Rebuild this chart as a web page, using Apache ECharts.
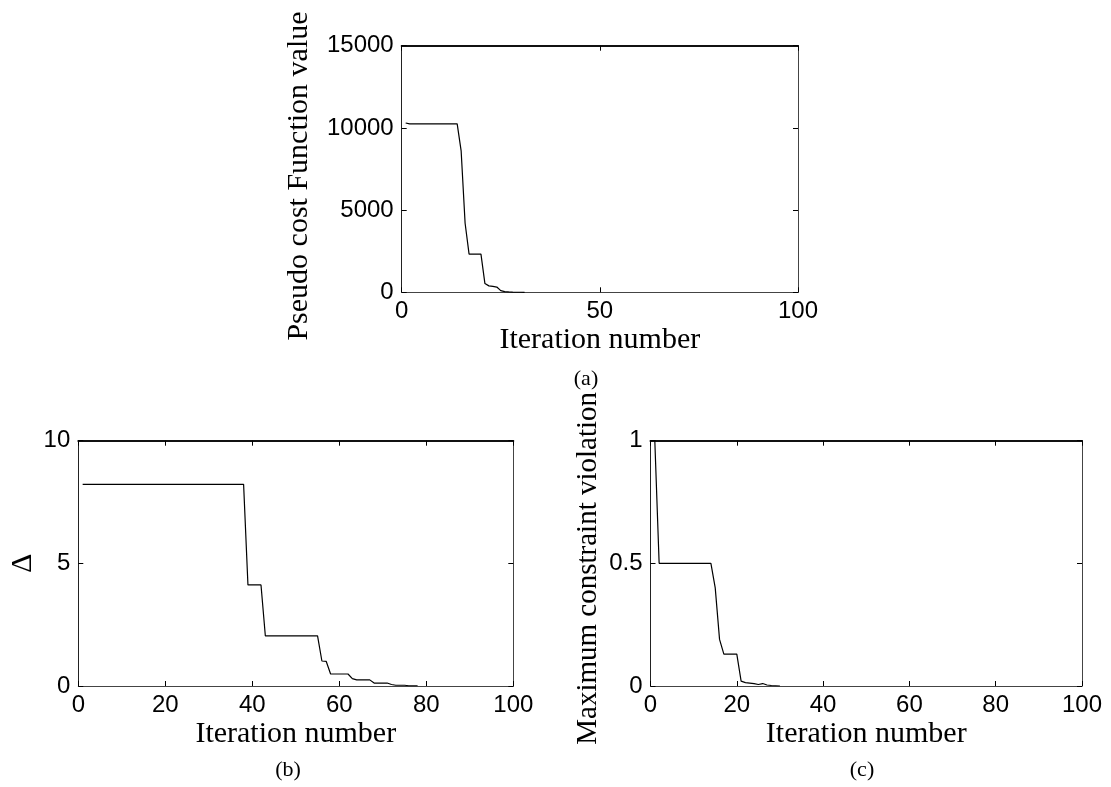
<!DOCTYPE html>
<html>
<head>
<meta charset="utf-8">
<script src="https://cdn.jsdelivr.net/npm/echarts@6/dist/echarts.min.js"></script>
<style>
  html, body { margin: 0; padding: 0; background: #fff; }
  #chart { width: 1111px; height: 787px; }
</style>
</head>
<body>
<div id="chart"></div>
<script>
// (a) pseudo cost function value, iterations 1..31
const costValues = [
  10300, 10250, 10250, 10250, 10250, 10250, 10250, 10250, 10250, 10250,
  10250, 10250, 10250, 10250, 8600, 4200, 2320, 2320, 2320, 2320,
  530, 390, 360, 320, 100, 40, 20, 8, 4, 2, 0
];
// (b) delta, iterations 1..78
const deltaValues = [
  8.22, 8.22, 8.22, 8.22, 8.22, 8.22, 8.22, 8.22, 8.22, 8.22,
  8.22, 8.22, 8.22, 8.22, 8.22, 8.22, 8.22, 8.22, 8.22, 8.22,
  8.22, 8.22, 8.22, 8.22, 8.22, 8.22, 8.22, 8.22, 8.22, 8.22,
  8.22, 8.22, 8.22, 8.22, 8.22, 8.22, 8.22, 8.22, 4.12, 4.12,
  4.12, 4.12, 2.04, 2.04, 2.04, 2.04, 2.04, 2.04, 2.04, 2.04,
  2.04, 2.04, 2.04, 2.04, 2.04, 1.02, 1.0, 0.49, 0.49, 0.49,
  0.49, 0.49, 0.3, 0.25, 0.25, 0.25, 0.25, 0.12, 0.12, 0.12,
  0.12, 0.06, 0.03, 0.03, 0.03, 0.01, 0.01, 0.01
];
// (c) maximum constraint violation, iterations 1..30
const violationValues = [
  1.0, 0.5, 0.5, 0.5, 0.5, 0.5, 0.5, 0.5, 0.5, 0.5,
  0.5, 0.5, 0.5, 0.5, 0.40, 0.19, 0.13, 0.13, 0.13, 0.13,
  0.02, 0.014, 0.012, 0.01, 0.006, 0.01, 0.004, 0.002, 0.001, 0
];

const xTicksA = [0, 50, 100];
const yTicksA = [0, 5000, 10000, 15000];
const xTicksBC = [0, 20, 40, 60, 80, 100];
const yTicksB = [0, 5, 10];
const yTicksC = [0, 0.5, 1];

const labelFont = 'Liberation Sans';
const nameFont = 'Liberation Serif';

function toPoints(vals) {
  return vals.map((v, i) => [i + 1, v]);
}

let grids = [];
let xAxes = [];
let yAxes = [];
let series = [];

function addPanel(box, xTicks, yTicks, xName, yName, yGap, yNameSize, yNamePad, vals) {
  const g = grids.length;
  grids.push({
    left: box[0], top: box[1], width: box[2], height: box[3],
    show: false, containLabel: false, outerBoundsMode: 'none'
  });
  const xStep = xTicks[1] - xTicks[0];
  const yStep = yTicks[1] - yTicks[0];
  const xBase = {
    gridIndex: g, type: 'value', min: xTicks[0], max: xTicks[xTicks.length - 1], interval: xStep,
    splitLine: { show: false },
    axisTick: { inside: true, length: 5, lineStyle: { color: '#000', width: 1 } }
  };
  const yBase = {
    gridIndex: g, type: 'value', min: yTicks[0], max: yTicks[yTicks.length - 1], interval: yStep,
    splitLine: { show: false },
    axisTick: { inside: true, length: 5, lineStyle: { color: '#000', width: 1 } }
  };
  xAxes.push(Object.assign({}, xBase, {
    position: 'bottom',
    axisLine: { onZero: false, lineStyle: { color: '#444', width: 1 } },
    axisLabel: { color: '#000', fontFamily: labelFont, fontSize: 24, margin: 7, formatter: (v) => String(v) },
    name: xName, nameLocation: 'middle', nameGap: 33,
    nameTextStyle: { color: '#000', fontFamily: nameFont, fontSize: 30 }
  }));
  xAxes.push(Object.assign({}, xBase, {
    position: 'top',
    axisLine: { onZero: false, lineStyle: { color: '#111', width: 2 } },
    axisLabel: { show: false }
  }));
  yAxes.push(Object.assign({}, yBase, {
    position: 'left',
    axisLine: { onZero: false, lineStyle: { color: '#222', width: 1 } },
    axisLabel: { color: '#000', fontFamily: labelFont, fontSize: 24, margin: 8, formatter: (v) => String(v) },
    name: yName, nameLocation: 'middle', nameGap: yGap, nameRotate: 90,
    nameTextStyle: { color: '#000', fontFamily: nameFont, fontSize: yNameSize, padding: yNamePad }
  }));
  yAxes.push(Object.assign({}, yBase, {
    position: 'right',
    axisLine: { onZero: false, lineStyle: { color: '#444', width: 1 } },
    axisLabel: { show: false }
  }));
  series.push({
    type: 'line',
    xAxisIndex: xAxes.length - 2,
    yAxisIndex: yAxes.length - 2,
    data: toPoints(vals),
    showSymbol: false,
    lineStyle: { color: '#000', width: 1.2 },
    animation: false
  });
}

addPanel([401.7, 45.7, 396.3, 246.6], xTicksA, yTicksA, 'Iteration number', 'Pseudo cost Function value', 88, 30, [0, 14, 0, 0], costValues);
addPanel([78.3, 440.7, 435, 245.3], xTicksBC, yTicksB, 'Iteration number', 'Δ', 40, 30, 0, deltaValues);
addPanel([650.5, 440.7, 431.5, 245.3], xTicksBC, yTicksC, 'Iteration number', 'Maximum constraint violation', 48, 29, [0, 10, 0, 0], violationValues);

const captions = [
  { text: '(a)', x: 586, y: 379 },
  { text: '(b)', x: 288, y: 770 },
  { text: '(c)', x: 862, y: 770 }
];

let myChart = echarts.init(document.getElementById('chart'));
let option = {
  backgroundColor: '#fff',
  animation: false,
  grid: grids,
  xAxis: xAxes,
  yAxis: yAxes,
  series: series,
  graphic: captions.map((c) => ({
    type: 'text',
    x: c.x,
    y: c.y,
    style: {
      text: c.text, fill: '#000', font: '22px "Liberation Serif"',
      align: 'center', verticalAlign: 'middle'
    }
  }))
};
option && myChart.setOption(option);
</script>
</body>
</html>
